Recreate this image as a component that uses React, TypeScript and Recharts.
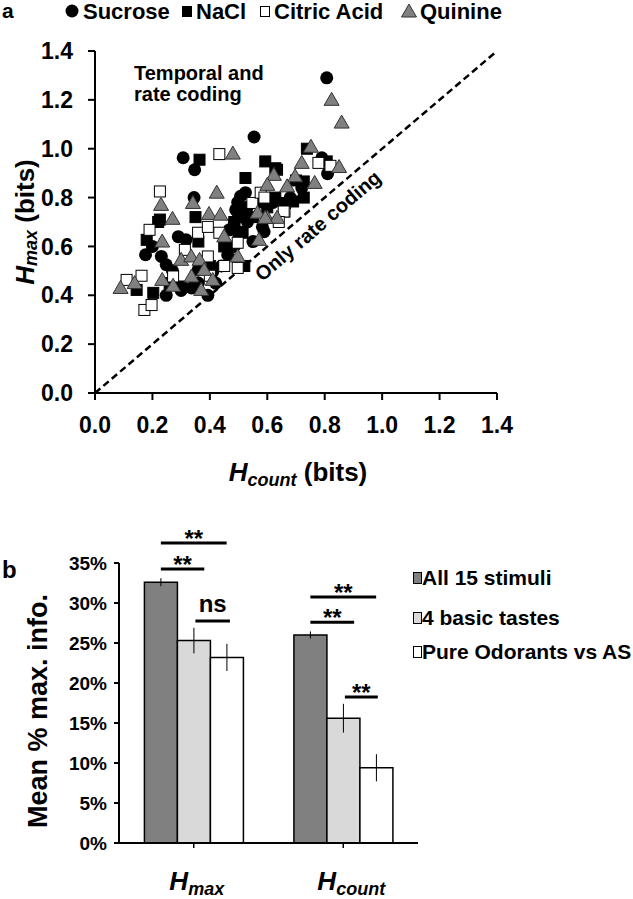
import React from 'react';
import {
  ScatterChart,
  Scatter,
  XAxis,
  YAxis,
  ReferenceLine,
  BarChart,
  Bar,
  ErrorBar,
  Label,
} from 'recharts';

const FONT = '"Liberation Sans", Arial, sans-serif';

// panel a: [Hcount, Hmax] in bits
const sucrose = [
  [0.807, 1.29], [0.554, 1.048], [0.307, 0.963], [0.347, 0.914], [0.79, 0.963],
  [0.81, 0.898], [0.345, 0.8], [0.524, 0.82], [0.497, 0.78], [0.49, 0.75],
  [0.507, 0.805], [0.514, 0.738], [0.531, 0.7], [0.583, 0.68], [0.589, 0.66],
  [0.468, 0.668], [0.485, 0.6], [0.462, 0.6], [0.462, 0.566], [0.29, 0.64],
  [0.317, 0.627], [0.176, 0.566], [0.231, 0.559], [0.248, 0.525], [0.359, 0.504],
  [0.41, 0.497], [0.393, 0.4], [0.336, 0.43], [0.248, 0.4], [0.3, 0.42],
  [0.36, 0.45], [0.55, 0.62], [0.72, 0.84], [0.62, 0.78], [0.68, 0.8], [0.42, 0.45],
  [0.5, 0.72], [0.53, 0.76], [0.2, 0.6], [0.27, 0.5], [0.44, 0.52],
];
const nacl = [
  [0.364, 0.955], [0.593, 0.948], [0.524, 0.88], [0.628, 0.92], [0.634, 0.914],
  [0.738, 1.0], [0.807, 0.948], [0.727, 0.866], [0.69, 0.784], [0.628, 0.8],
  [0.662, 0.778], [0.727, 0.8], [0.35, 0.72], [0.226, 0.71], [0.485, 0.7],
  [0.485, 0.689], [0.514, 0.656], [0.18, 0.627], [0.22, 0.7], [0.3, 0.436],
  [0.203, 0.41], [0.145, 0.422], [0.55, 0.72], [0.45, 0.6], [0.4, 0.52],
  [0.36, 0.62], [0.58, 0.78], [0.26, 0.45], [0.52, 0.52], [0.7, 0.87],
  [0.5, 0.66], [0.6, 0.76],
];
const citric = [
  [0.433, 0.978], [0.226, 0.825], [0.548, 0.778], [0.66, 0.743], [0.778, 0.942],
  [0.577, 0.82], [0.657, 0.743], [0.19, 0.668], [0.313, 0.586], [0.359, 0.656],
  [0.393, 0.68], [0.433, 0.656], [0.497, 0.615], [0.497, 0.512], [0.393, 0.559],
  [0.272, 0.477], [0.172, 0.34], [0.197, 0.36], [0.162, 0.48], [0.11, 0.463],
  [0.4, 0.48], [0.64, 0.7], [0.82, 0.93], [0.59, 0.8], [0.45, 0.52],
];
const quinine = [
  [0.824, 1.2], [0.859, 1.107], [0.48, 0.98], [0.752, 1.008], [0.72, 0.942],
  [0.85, 0.925], [0.697, 0.887], [0.765, 0.86], [0.623, 0.893], [0.6, 0.852],
  [0.669, 0.846], [0.23, 0.77], [0.341, 0.778], [0.424, 0.82], [0.27, 0.713],
  [0.566, 0.738], [0.6, 0.717], [0.634, 0.717], [0.397, 0.733], [0.437, 0.73],
  [0.234, 0.62], [0.45, 0.641], [0.571, 0.627], [0.497, 0.559], [0.3, 0.545],
  [0.335, 0.559], [0.364, 0.545], [0.38, 0.504], [0.336, 0.477], [0.41, 0.463],
  [0.37, 0.422], [0.272, 0.439], [0.234, 0.463], [0.089, 0.43], [0.138, 0.45],
  [0.593, 0.717],
];
const bitTicks = [0, 0.2, 0.4, 0.6, 0.8, 1.0, 1.2, 1.4];

// panel b: mean % of max info
const measures = ['max', 'count'];
const allStimuli = [32.6, 26.0];
const allStimuliErr = [0.5, 0.45];
const basicTastes = [25.3, 15.6];
const basicTastesErr = [1.6, 1.8];
const odorants = [23.2, 9.4];
const odorantsErr = [1.7, 1.7];
const pctTicks = [0, 5, 10, 15, 20, 25, 30, 35];

// significance marks: measure, from bar, to bar (bar index, 0..2), level (%), text
const sigMarks = [
  { measure: 'max', from: 0, to: 2, level: 37.5, text: '**' },
  { measure: 'max', from: 0, to: 1.32, level: 34.25, text: '**' },
  { measure: 'max', from: 1.05, to: 2.1, level: 27.75, text: 'ns' },
  { measure: 'count', from: 0, to: 2, level: 30.75, text: '**' },
  { measure: 'count', from: 0, to: 1.33, level: 27.6, text: '**' },
  { measure: 'count', from: 1.05, to: 2.05, level: 18.25, text: '**' },
];

const BAR_CHART_LEFT = 119;
const BAR_CHART_RIGHT = 418;
const CAT_GAP = 0.17;
const BAR_PX = (((BAR_CHART_RIGHT - BAR_CHART_LEFT) / 2) * (1 - 2 * CAT_GAP)) / 3;

const toPts = (arr: number[][]) => arr.map(([x, y]) => ({ x, y }));

const barData = measures.map((m, i) => ({
  name: m,
  all: allStimuli[i],
  allErr: allStimuliErr[i],
  basic: basicTastes[i],
  basicErr: basicTastesErr[i],
  odor: odorants[i],
  odorErr: odorantsErr[i],
}));

const scatterTick = { fontSize: 23, fontWeight: 'bold', fill: '#000', fontFamily: FONT };
const barTick = { fontSize: 19, fontWeight: 'bold', fill: '#000', fontFamily: FONT };

const circleShape = (p: any) => <circle cx={p.cx} cy={p.cy} r={6.5} fill="#000" />;
const squareShape = (fill: string) => (p: any) => (
  <rect x={p.cx - 5.5} y={p.cy - 5.5} width={11} height={11} fill={fill} stroke="#000" strokeWidth={1} />
);
const triShape = (p: any) => (
  <path
    d={`M${p.cx},${p.cy - 7.5} L${p.cx + 7.5},${p.cy + 5.5} L${p.cx - 7.5},${p.cy + 5.5} Z`}
    fill="#808080"
    stroke="#333"
    strokeWidth={1}
  />
);

function BarTick({ x, y, payload }: any) {
  return (
    <text x={x + (payload.value === 'count' ? 8 : 3)} y={y + 40} textAnchor="middle" fontFamily={FONT} fontWeight="bold" fontStyle="italic" fontSize={26} fill="#000">
      H
      <tspan fontSize={18} dy={5}>{payload.value}</tspan>
    </text>
  );
}

function sigShape(mark: (typeof sigMarks)[number]) {
  return (p: any) => {
    const c = p.x1;
    const y = p.y1;
    const a = c + (mark.from - 1) * BAR_PX;
    const b = c + (mark.to - 1) * BAR_PX;
    return (
      <g>
        <line x1={a} y1={y} x2={b} y2={y} stroke="#000" strokeWidth={3} />
        <text
          x={(a + b) / 2}
          y={mark.text === 'ns' ? y - 9 : y + 4}
          textAnchor="middle"
          fontFamily={FONT}
          fontWeight="bold"
          fontSize={24}
          fill="#000"
        >
          {mark.text}
        </text>
      </g>
    );
  };
}

const legendA = [
  { name: 'Sucrose', icon: <circle cx={72} cy={11} r={6.5} fill="#000" />, text: 83 },
  { name: 'NaCl', icon: <rect x={182} y={6} width={10} height={11} fill="#000" />, text: 196 },
  { name: 'Citric Acid', icon: <rect x={260.5} y={6.5} width={9} height={10} fill="#fff" stroke="#000" />, text: 274 },
  { name: 'Quinine', icon: <path d="M409,4 L416.5,17 L401.5,17 Z" fill="#808080" stroke="#333" />, text: 420 },
];

const legendB = [
  { name: 'All 15 stimuli', fill: '#808080', y: 578 },
  { name: '4 basic tastes', fill: '#d9d9d9', y: 618 },
  { name: 'Pure Odorants vs AS', fill: '#fff', y: 652 },
];

const textStyle: React.CSSProperties = {
  position: 'absolute',
  fontFamily: FONT,
  fontWeight: 'bold',
  color: '#000',
  whiteSpace: 'nowrap',
};

export default function App() {
  return (
    <div style={{ position: 'relative', width: 633, height: 899, background: '#fff', overflow: 'hidden' }}>
      <style>{'body{margin:0;background:#fff}'}</style>

      <svg width={633} height={26} style={{ position: 'absolute', left: 0, top: 0 }}>
        <text x={2} y={18} fontFamily={FONT} fontWeight="bold" fontSize={21} fill="#000">
          a
        </text>
        {legendA.map((l) => (
          <g key={l.name}>
            {l.icon}
            <text x={l.text} y={19} fontFamily={FONT} fontWeight="bold" fontSize={22} fill="#000">
              {l.name}
            </text>
          </g>
        ))}
      </svg>

      <div style={{ position: 'absolute', left: 0, top: 0 }}>
        <ScatterChart width={633} height={500} margin={{ top: 51, right: 136, bottom: 0, left: 0 }}>
          <XAxis
            type="number"
            dataKey="x"
            domain={[0, 1.4]}
            ticks={bitTicks}
            tickFormatter={(v) => v.toFixed(1)}
            tick={scatterTick}
            axisLine={{ stroke: '#000', strokeWidth: 2 }}
            tickLine={{ stroke: '#000', strokeWidth: 2 }}
            tickSize={7}
            tickMargin={17}
            height={107}
          >
            <Label
              content={(p: any) => {
                const vb = p.viewBox || { x: 95, y: 393, width: 402 };
                return (
                  <text x={vb.x + vb.width / 2 + 2} y={vb.y + 88} textAnchor="middle" fontFamily={FONT} fontWeight="bold" fontSize={26} fill="#000">
                    <tspan fontStyle="italic">H</tspan>
                    <tspan fontStyle="italic" fontSize={18} dy={5}>count</tspan>
                    <tspan dy={-5}> (bits)</tspan>
                  </text>
                );
              }}
            />
          </XAxis>
          <YAxis
            type="number"
            dataKey="y"
            domain={[0, 1.4]}
            ticks={bitTicks}
            tickFormatter={(v) => v.toFixed(1)}
            tick={scatterTick}
            axisLine={{ stroke: '#000', strokeWidth: 2 }}
            tickLine={{ stroke: '#000', strokeWidth: 2 }}
            tickSize={7}
            tickMargin={15}
            width={95}
          >
            <Label
              content={(p: any) => {
                const vb = p.viewBox || { x: 0, y: 51, height: 342 };
                const cx = 27;
                const cy = vb.y + vb.height / 2;
                return (
                  <text x={cx} y={cy} transform={`rotate(-90 ${cx} ${cy})`} textAnchor="middle" dominantBaseline="middle" fontFamily={FONT} fontWeight="bold" fontSize={26} fill="#000">
                    <tspan fontStyle="italic">H</tspan>
                    <tspan fontStyle="italic" fontSize={18} dy={5}>max</tspan>
                    <tspan dy={-5}> (bits)</tspan>
                  </text>
                );
              }}
            />
          </YAxis>
          <ReferenceLine
            segment={[{ x: 0, y: 0 }, { x: 1.4, y: 1.4 }]}
            stroke="#000"
            strokeWidth={2.5}
            strokeDasharray="7 4"
          />
          <Scatter name="Sucrose" data={toPts(sucrose)} shape={circleShape} isAnimationActive={false} />
          <Scatter name="NaCl" data={toPts(nacl)} shape={squareShape('#000')} isAnimationActive={false} />
          <Scatter name="Citric Acid" data={toPts(citric)} shape={squareShape('#fff')} isAnimationActive={false} />
          <Scatter name="Quinine" data={toPts(quinine)} shape={triShape} isAnimationActive={false} />
        </ScatterChart>
      </div>

      <div style={{ ...textStyle, left: 134, top: 63, fontSize: 20, lineHeight: '21px' }}>
        Temporal and
        <br />
        rate coding
      </div>
      <div
        style={{
          ...textStyle,
          left: 318,
          top: 226,
          fontSize: 20,
          transform: 'translate(-50%, -50%) rotate(-40.5deg)',
        }}
      >
        Only rate coding
      </div>

      <div style={{ ...textStyle, left: 2, top: 558, fontSize: 24, lineHeight: '24px' }}>b</div>

      <div style={{ position: 'absolute', left: 0, top: 480 }}>
        <BarChart
          width={633}
          height={419}
          data={barData}
          margin={{ top: 83, right: 633 - BAR_CHART_RIGHT, bottom: 0, left: 0 }}
          barCategoryGap={`${CAT_GAP * 100}%`}
          barGap={0}
        >
          <XAxis
            dataKey="name"
            tick={<BarTick />}
            axisLine={{ stroke: '#000', strokeWidth: 2 }}
            tickLine={{ stroke: '#000', strokeWidth: 1.5 }}
            tickSize={5}
            height={56}
            interval={0}
          />
          <YAxis
            domain={[0, 35]}
            ticks={pctTicks}
            tickFormatter={(v) => `${v}%`}
            tick={barTick}
            axisLine={{ stroke: '#000', strokeWidth: 2 }}
            tickLine={{ stroke: '#000', strokeWidth: 2 }}
            tickSize={5}
            tickMargin={7}
            width={BAR_CHART_LEFT}
          >
            <Label
              content={(p: any) => {
                const vb = p.viewBox || { x: 0, y: 83, height: 280 };
                const cx = 40;
                const cy = vb.y + vb.height / 2 + 8;
                return (
                  <text x={cx} y={cy} transform={`rotate(-90 ${cx} ${cy})`} textAnchor="middle" dominantBaseline="middle" fontFamily={FONT} fontWeight="bold" fontSize={27} fill="#000">
                    Mean % max. info.
                  </text>
                );
              }}
            />
          </YAxis>
          <Bar dataKey="all" fill="#808080" stroke="#000" strokeWidth={1.5} isAnimationActive={false}>
            <ErrorBar dataKey="allErr" width={0} stroke="#000" strokeWidth={1} />
          </Bar>
          <Bar dataKey="basic" fill="#d9d9d9" stroke="#000" strokeWidth={1.5} isAnimationActive={false}>
            <ErrorBar dataKey="basicErr" width={0} stroke="#000" strokeWidth={1} />
          </Bar>
          <Bar dataKey="odor" fill="#fff" stroke="#000" strokeWidth={1.5} isAnimationActive={false}>
            <ErrorBar dataKey="odorErr" width={0} stroke="#000" strokeWidth={1} />
          </Bar>
          {sigMarks.map((m, i) => (
            <ReferenceLine
              key={i}
              ifOverflow="visible"
              segment={[
                { x: m.measure, y: m.level },
                { x: m.measure, y: m.level },
              ]}
              shape={sigShape(m)}
            />
          ))}
        </BarChart>
      </div>

      {legendB.map((l) => (
        <React.Fragment key={l.name}>
          <span
            style={{
              position: 'absolute',
              left: 413,
              top: l.y - 6,
              width: 7,
              height: 10,
              background: l.fill,
              border: '1px solid #000',
            }}
          />
          <div style={{ ...textStyle, left: 422, top: l.y - 12, fontSize: 21, lineHeight: '24px' }}>{l.name}</div>
        </React.Fragment>
      ))}
    </div>
  );
}
